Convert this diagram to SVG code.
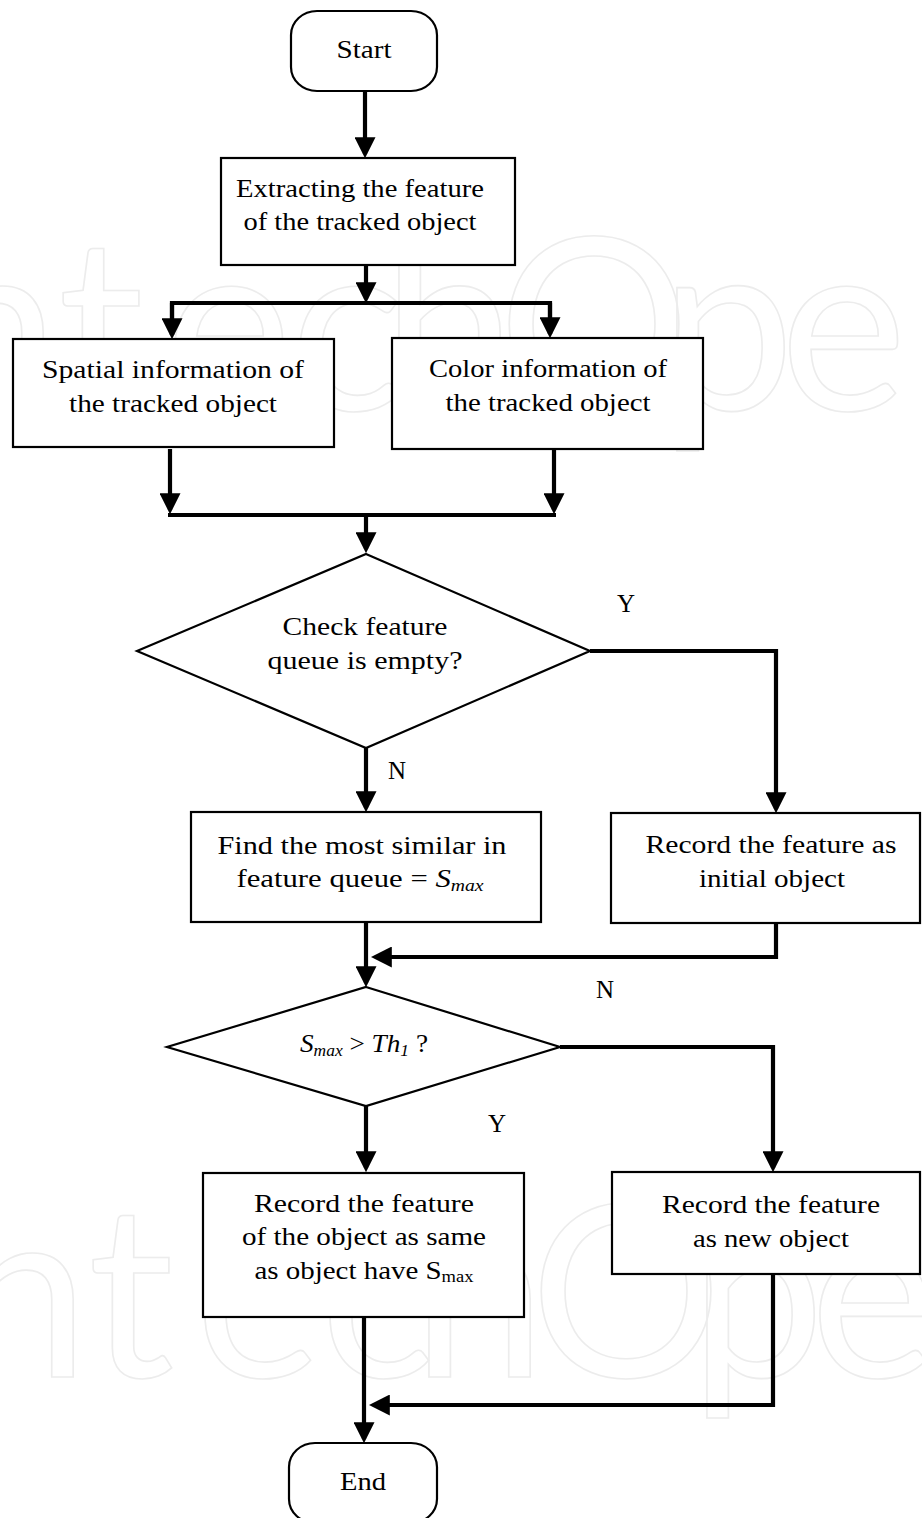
<svg xmlns="http://www.w3.org/2000/svg" width="922" height="1518" viewBox="0 0 922 1518">
<style>
.wm{font-family:"Lato","Open Sans",sans-serif;font-size:240px;fill:none;stroke:#ececec;stroke-width:1.6}
.box{fill:#fff;stroke:#000;stroke-width:2.2}
.t{font-family:"Liberation Serif","Times New Roman",serif;font-size:25px;fill:#000;text-anchor:middle}
.lbl{font-family:"Liberation Serif","Times New Roman",serif;font-size:25px;fill:#000}
.c{fill:none;stroke:#000;stroke-width:4.2}
.ca{fill:none;stroke:#000;stroke-width:4.2;marker-end:url(#ah)}
</style>
<defs>
<marker id="ah" viewBox="0 0 10 10" markerWidth="5" markerHeight="5" refX="8" refY="5" orient="auto" markerUnits="strokeWidth">
<path d="M0,0 L10,5 L0,10 z" fill="#000"/>
</marker>
</defs>
<rect width="922" height="1518" fill="#fff"/>
<g id="watermark">
<text class="wm" x="-120 -75 58 165 290 382 498 660 780 935" y="410">IntechOpen</text>
<text class="wm" x="-90 -45 88 195 320 412 530 690 810 965" y="1377">IntechOpen</text>
</g>
<g id="connectors">
<path class="ca" d="M365,91 V154"/>
<path class="ca" d="M366,265 V299"/>
<path class="c" d="M172,335 V303 H550 V334"/>
<path class="ca" d="M172,303 V335"/>
<path class="ca" d="M550,303 V334"/>
<path class="ca" d="M170,449 V510"/>
<path class="ca" d="M554,449 V510"/>
<path class="c" d="M168,515 H556"/>
<path class="ca" d="M366,515 V549"/>
<path class="ca" d="M590,651 H776 V809"/>
<path class="ca" d="M366,748 V808"/>
<path class="ca" d="M776,923 V957 H375"/>
<path class="ca" d="M366,922 V983"/>
<path class="ca" d="M560,1047 H773 V1168"/>
<path class="ca" d="M366,1106 V1168"/>
<path class="ca" d="M773,1274 V1405 H373"/>
<path class="ca" d="M364,1317 V1439"/>
</g>
<g id="start">
<rect class="box" x="291" y="11" width="146" height="80" rx="26" ry="24"/>
<text class="t" x="364" y="58" textLength="55" lengthAdjust="spacingAndGlyphs">Start</text>
</g>
<g id="extract">
<rect class="box" x="221" y="158" width="294" height="107"/>
<text class="t" x="360" y="197" textLength="248" lengthAdjust="spacingAndGlyphs">Extracting the feature</text>
<text class="t" x="360" y="230" textLength="233" lengthAdjust="spacingAndGlyphs">of the tracked object</text>
</g>
<g id="spatial">
<rect class="box" x="13" y="339" width="321" height="108"/>
<text class="t" x="173" y="378" textLength="262" lengthAdjust="spacingAndGlyphs">Spatial information of</text>
<text class="t" x="173" y="412" textLength="208" lengthAdjust="spacingAndGlyphs">the tracked object</text>
</g>
<g id="color">
<rect class="box" x="392" y="338" width="311" height="111"/>
<text class="t" x="548" y="377" textLength="238" lengthAdjust="spacingAndGlyphs">Color information of</text>
<text class="t" x="548" y="411" textLength="205" lengthAdjust="spacingAndGlyphs">the tracked object</text>
</g>
<g id="check">
<polygon class="box" points="366,554 590,651 366,748 137,651"/>
<text class="t" x="365" y="635" textLength="165" lengthAdjust="spacingAndGlyphs">Check feature</text>
<text class="t" x="365" y="669" textLength="195" lengthAdjust="spacingAndGlyphs">queue is empty?</text>
</g>
<g id="find">
<rect class="box" x="191" y="812" width="350" height="110"/>
<text class="t" x="362" y="854" textLength="289" lengthAdjust="spacingAndGlyphs">Find the most similar in</text>
<text class="t" x="360" y="887" textLength="247" lengthAdjust="spacingAndGlyphs">feature queue = <tspan font-style="italic">S</tspan><tspan font-style="italic" font-size="16" dy="4">max</tspan></text>
</g>
<g id="record-initial">
<rect class="box" x="611" y="813" width="309" height="110"/>
<text class="t" x="771" y="853" textLength="251" lengthAdjust="spacingAndGlyphs">Record the feature as</text>
<text class="t" x="772" y="887" textLength="146" lengthAdjust="spacingAndGlyphs">initial object</text>
</g>
<g id="compare">
<polygon class="box" points="366,987 560,1047 366,1106 167,1047"/>
<text class="t" x="364" y="1052" textLength="128" lengthAdjust="spacingAndGlyphs"><tspan font-style="italic">S</tspan><tspan font-style="italic" font-size="16" dy="4">max</tspan><tspan dy="-4"> &gt; </tspan><tspan font-style="italic">Th</tspan><tspan font-style="italic" font-size="16" dy="4">1</tspan><tspan dy="-4"> ?</tspan></text>
</g>
<g id="record-same">
<rect class="box" x="203" y="1173" width="321" height="144"/>
<text class="t" x="364" y="1212" textLength="220" lengthAdjust="spacingAndGlyphs">Record the feature</text>
<text class="t" x="364" y="1245" textLength="244" lengthAdjust="spacingAndGlyphs">of the object as same</text>
<text class="t" x="364" y="1279" textLength="219" lengthAdjust="spacingAndGlyphs">as object have S<tspan font-size="16" dy="3">max</tspan></text>
</g>
<g id="record-new">
<rect class="box" x="612" y="1172" width="308" height="102"/>
<text class="t" x="771" y="1213" textLength="218" lengthAdjust="spacingAndGlyphs">Record the feature</text>
<text class="t" x="771" y="1247" textLength="156" lengthAdjust="spacingAndGlyphs">as new object</text>
</g>
<g id="end">
<rect class="box" x="289" y="1443" width="148" height="80" rx="26" ry="24"/>
<text class="t" x="363" y="1490" textLength="46" lengthAdjust="spacingAndGlyphs">End</text>
</g>
<g id="labels">
<text class="lbl" x="617" y="612">Y</text>
<text class="lbl" x="388" y="779">N</text>
<text class="lbl" x="596" y="998">N</text>
<text class="lbl" x="488" y="1132">Y</text>
</g>
</svg>
